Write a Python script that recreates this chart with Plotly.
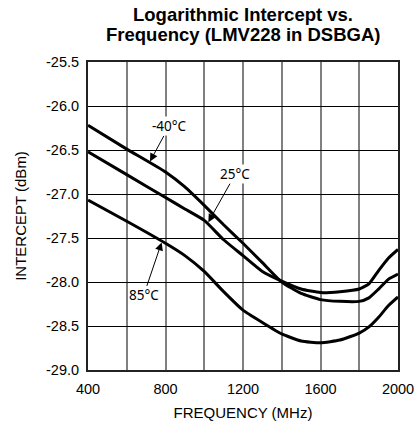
import plotly.graph_objects as go

freq = [400, 600, 800, 900, 1000, 1100, 1200, 1300, 1400, 1500, 1600, 1700, 1800, 1850, 1900, 1950, 2000]
t_m40 = [-26.22, -26.49, -26.75, -26.92, -27.13, -27.35, -27.56, -27.78, -28.00, -28.13, -28.20, -28.22, -28.22, -28.18, -28.08, -27.97, -27.91]
t_25 = [-26.52, -26.78, -27.04, -27.17, -27.30, -27.52, -27.70, -27.88, -27.99, -28.08, -28.12, -28.11, -28.08, -28.02, -27.87, -27.73, -27.63]
t_85 = [-27.07, -27.31, -27.56, -27.70, -27.88, -28.11, -28.32, -28.46, -28.59, -28.67, -28.69, -28.66, -28.58, -28.51, -28.40, -28.27, -28.17]

x_ticks = [400, 800, 1200, 1600, 2000]
y_ticks = [-25.5, -26.0, -26.5, -27.0, -27.5, -28.0, -28.5, -29.0]

labels = ["-40°C", "25°C", "85°C"]
label_tips = [(720, -26.63), (1021, -27.32), (780, -27.55)]
label_offsets = [(19, -35), (27, -48), (-18, 53)]

title_lines = ["Logarithmic Intercept vs.", "Frequency (LMV228 in DSBGA)"]

fig = go.Figure()
for ys in (t_m40, t_25, t_85):
    fig.add_trace(go.Scatter(x=freq, y=ys, mode="lines",
                             line=dict(color="black", width=3, shape="spline", smoothing=0.5),
                             showlegend=False, hoverinfo="skip"))

for txt, (tx, ty), (ax, ay) in zip(labels, label_tips, label_offsets):
    fig.add_annotation(x=tx, y=ty, ax=ax, ay=ay, text=txt, showarrow=True,
                       arrowhead=2, arrowsize=1.6, arrowwidth=1, arrowcolor="black",
                       font=dict(family="Noto Sans", size=13.5, color="black"),
                       bgcolor="white", borderpad=0)

for txt, yp in zip(title_lines, [1.1558, 1.0893]):
    fig.add_annotation(x=0.5, y=yp, xref="paper", yref="paper", text=f"<b>{txt}</b>",
                       showarrow=False, xanchor="center", yanchor="middle",
                       font=dict(family="Liberation Sans, Arial", size=18.5, color="black"))

fig.update_layout(
    width=419, height=428,
    margin=dict(l=88, r=21, t=62, b=58, autoexpand=False),
    paper_bgcolor="white", plot_bgcolor="white",
    font=dict(family="Liberation Sans, Arial", size=14.5, color="black"),
)
fig.update_xaxes(range=[400, 2000], tickvals=x_ticks, ticktext=[str(v) for v in x_ticks],
                 showgrid=True, gridcolor="#808080", gridwidth=2,
                 minor=dict(dtick=200, tick0=400, showgrid=True, gridcolor="#808080", gridwidth=2),
                 showline=True, linecolor="#222", linewidth=2, mirror=True,
                 ticks="", zeroline=False, ticklabelstandoff=5,
                 title=dict(text="FREQUENCY (MHz)", standoff=11, font=dict(size=15)))
fig.update_yaxes(range=[-29.0, -25.5], tickvals=y_ticks, ticktext=[f"{v:.1f}" for v in y_ticks],
                 showgrid=True, gridcolor="black", gridwidth=1,
                 showline=True, linecolor="#222", linewidth=2, mirror=True,
                 ticks="", zeroline=False, ticklabelstandoff=4,
                 title=dict(text="INTERCEPT (dBm)", standoff=16, font=dict(size=15)))

fig.write_html("out.html", config={"displayModeBar": False},
               post_script="document.body.style.margin='0';")
